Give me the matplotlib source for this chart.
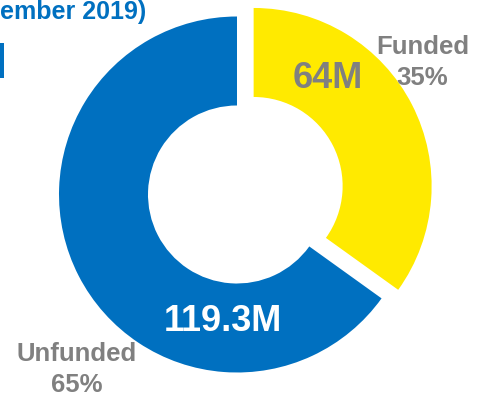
import matplotlib
matplotlib.use("Agg")
import matplotlib.pyplot as plt
from matplotlib.patches import Rectangle

categories = ["Funded", "Unfunded"]
values = [64.0, 119.3]
value_labels = ["64M", "119.3M"]
pct_labels = ["35%", "65%"]
title_text = "ember 2019)"

BLUE = "#0070C0"
YELLOW = "#FFEA00"
GRAY = "#808080"

plt.rcParams['font.family'] = ['Liberation Sans', 'DejaVu Sans']

W, H = 493, 400
fig = plt.figure(figsize=(W / 100, H / 100), dpi=100)
ax = fig.add_axes([0, 0, 1, 1])

cx, cy, R = 237.0, 194.5, 178.0  # pixel geometry of the donut


def pt(px, py):
    return ((px - cx) / R, (cy - py) / R)


ax.pie(values, colors=[YELLOW, BLUE], startangle=90, counterclock=False,
       explode=[0.105, 0], radius=1.0,
       wedgeprops=dict(width=0.5, linewidth=0))

ax.set_xlim(-cx / R, (W - cx) / R)
ax.set_ylim(-(H - cy) / R, cy / R)
ax.set_aspect('auto')
ax.axis('off')

bold = dict(fontweight='bold', ha='center', va='center')
ax.text(*pt(423, 47), categories[0], color=GRAY, fontsize=18.5, **bold)
ax.text(*pt(422, 78), pct_labels[0], color=GRAY, fontsize=18.5, **bold)
ax.text(*pt(328, 78), value_labels[0], color=GRAY, fontsize=26, **bold)
ax.text(*pt(77, 354), categories[1], color=GRAY, fontsize=18.5, **bold)
ax.text(*pt(77, 385), pct_labels[1], color=GRAY, fontsize=18.5, **bold)
ax.text(*pt(223, 322), value_labels[1], color="white", fontsize=26, **bold)

# title fragment at the top-left, as shown in the reference
fig.text(0.5 / W, 1 - 19 / H, title_text, color=BLUE, fontsize=18,
         fontweight='bold', ha='left', va='baseline')

fig.patches.append(Rectangle((0, 1 - 78 / H), 4 / W, 35 / H,
                             transform=fig.transFigure, color=BLUE, lw=0))

fig.savefig("out.png", dpi=100)
